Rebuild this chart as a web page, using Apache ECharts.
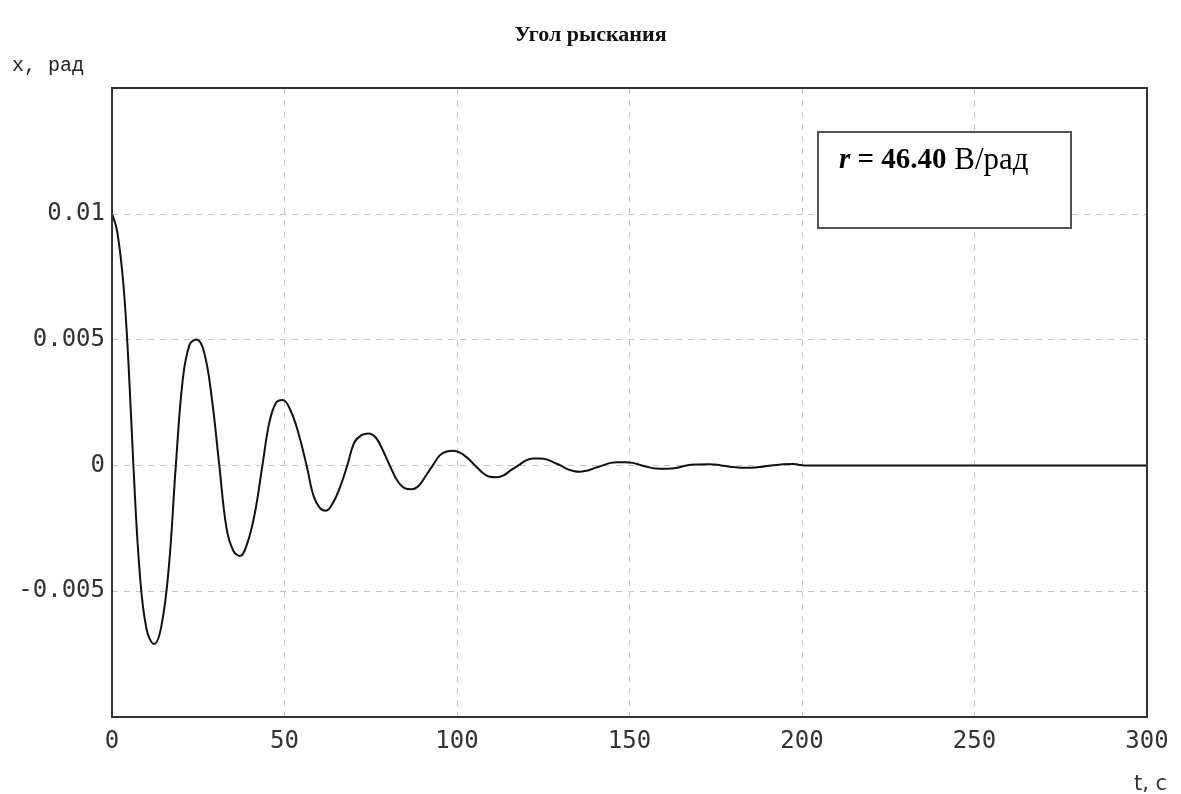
<!DOCTYPE html>
<html><head><meta charset="utf-8">
<script src="https://cdn.jsdelivr.net/npm/echarts@6/dist/echarts.min.js"></script>
<style>html,body{margin:0;padding:0;background:#fff}#c{width:1181px;height:794px}</style>
</head><body><div id="c"></div>
<script>
// time (s)
const tValues = [0,1.5,3.3,4.8,6.2,8.0,10.0,12.2,14.3,16.5,18.5,20.5,22.5,24.5,26.7,28.9,31.1,33.2,35.2,37.1,39.2,41.4,43.6,45.6,47.6,49.5,51.7,54.0,56.4,58.4,60.3,62.0,64.0,66.0,68.2,70.2,72.3,74.3,76.5,78.5,80.5,82.7,84.8,86.9,89.0,91.0,93.0,95.0,97.0,98.9,101,103,105.2,107.5,109.5,111.5,113.5,115.5,117.8,120,122,124.1,126,128,130,132,134,135.7,138,140,142.3,144.5,146.5,148.7,151,153,155,157.5,160.8,163.5,166.5,170,173.3,176.5,179.5,182.5,185.4,188.5,191,194,197.4,199,200.5,300];
// yaw angle x (rad)
const xValues = [0.0100,0.0093,0.0072,0.0040,0.0000,-0.0042,-0.0065,-0.0071,-0.0064,-0.0040,0.0000,0.0034,0.0048,0.0050,0.0045,0.0027,0.0000,-0.0025,-0.0034,-0.0036,-0.0031,-0.0019,0.0000,0.0017,0.0025,0.0026,0.0022,0.0013,0.0000,-0.0012,-0.0017,-0.0018,-0.0015,-0.0009,0.0000,0.0009,0.0012,0.00127,0.0011,0.0006,0.0000,-0.0006,-0.0009,-0.00095,-0.0008,-0.0004,0.0000,0.0004,0.00055,0.00058,0.0005,0.0003,0.0000,-0.0003,-0.00045,-0.00047,-0.0004,-0.0002,0.0000,0.0002,0.00027,0.00027,0.00024,0.00012,0.0000,-0.00015,-0.00023,-0.00025,-0.0002,-0.0001,0.0000,0.0001,0.00013,0.00013,0.0001,0.00002,-0.00005,-0.00012,-0.00013,-0.0001,0.0000,0.00004,0.00005,0.0000,-0.00006,-0.00009,-0.00009,-0.00005,0.0000,0.00004,0.00006,0.00003,0.0000,0];
const xTickLabels = ['0','50','100','150','200','250','300'];
const yTickLabels = ['-0.005','0','0.005','0.01'];
const titleText = 'Угол рыскания';
const yName = 'x, рад';
const xName = 't, c';
const legendValue = '46.40';
const legendUnit = 'В/рад';

const data = tValues.map((t, i) => [t, xValues[i]]);
const chart = echarts.init(document.getElementById('c'), null, {renderer: 'canvas'});
const mono = 'DejaVu Sans Mono';
const G = {left: 112, right: 34, top: 88, bottom: 77};
chart.setOption({
  backgroundColor: '#fff',
  animation: false,
  title: {
    text: titleText, left: 'center', top: 19,
    textStyle: {fontFamily: 'Liberation Serif', fontWeight: 'bold', fontSize: 22, color: '#111'}
  },
  grid: {left: G.left, right: G.right, top: G.top, bottom: G.bottom, show: false},
  xAxis: {
    type: 'value', min: 0, max: 300, interval: 50,
    axisLine: {show: false}, axisTick: {show: false},
    splitLine: {show: true, lineStyle: {color: '#c4c4c4', type: [6, 6], width: 1}},
    axisLabel: {
      margin: 13, fontFamily: mono, fontSize: 24, color: '#333',
      formatter: v => { const s = String(Math.round(v)); return xTickLabels.includes(s) ? s : ''; }
    }
  },
  yAxis: {
    type: 'value', min: -0.01, max: 0.015, interval: 0.005,
    axisLine: {show: false}, axisTick: {show: false},
    splitLine: {show: true, lineStyle: {color: '#c4c4c4', type: [6, 6], width: 1}},
    axisLabel: {
      margin: 7, fontFamily: mono, fontSize: 24, color: '#333',
      formatter: v => { const s = String(parseFloat(v.toFixed(4))); return yTickLabels.includes(s) ? s : ''; }
    }
  },
  graphic: [
    {type: 'rect', shape: {x: G.left, y: G.top, width: 1181 - G.left - G.right, height: 794 - G.top - G.bottom},
     style: {fill: 'none', stroke: '#333', lineWidth: 2}, z: 50, silent: true},
    {type: 'text', left: 12, top: 56, style: {text: yName, font: '20px "Liberation Mono"', fill: '#222'}},
    {type: 'text', left: 1134, top: 774, style: {text: xName, font: '21px "DejaVu Sans"', fill: '#333'}},
    {type: 'rect', shape: {x: 818, y: 132, width: 253, height: 96}, style: {fill: '#fff', stroke: '#555', lineWidth: 2}, z: 100},
    {type: 'text', left: 839, top: 145, z: 101, style: {
      text: '{r|r}{b| = ' + legendValue + '}{n| ' + legendUnit + '}',
      rich: {
        r: {fontFamily: 'Liberation Serif', fontWeight: 'bold', fontStyle: 'italic', fontSize: 29, fill: '#000'},
        b: {fontFamily: 'Liberation Serif', fontWeight: 'bold', fontSize: 29, fill: '#000'},
        n: {fontFamily: 'Liberation Serif', fontSize: 31, fill: '#000'}
      }
    }}
  ],
  series: [{
    type: 'line', data: data, showSymbol: false, smooth: 0.4,
    lineStyle: {color: '#111', width: 2}
  }]
});
</script></body></html>
